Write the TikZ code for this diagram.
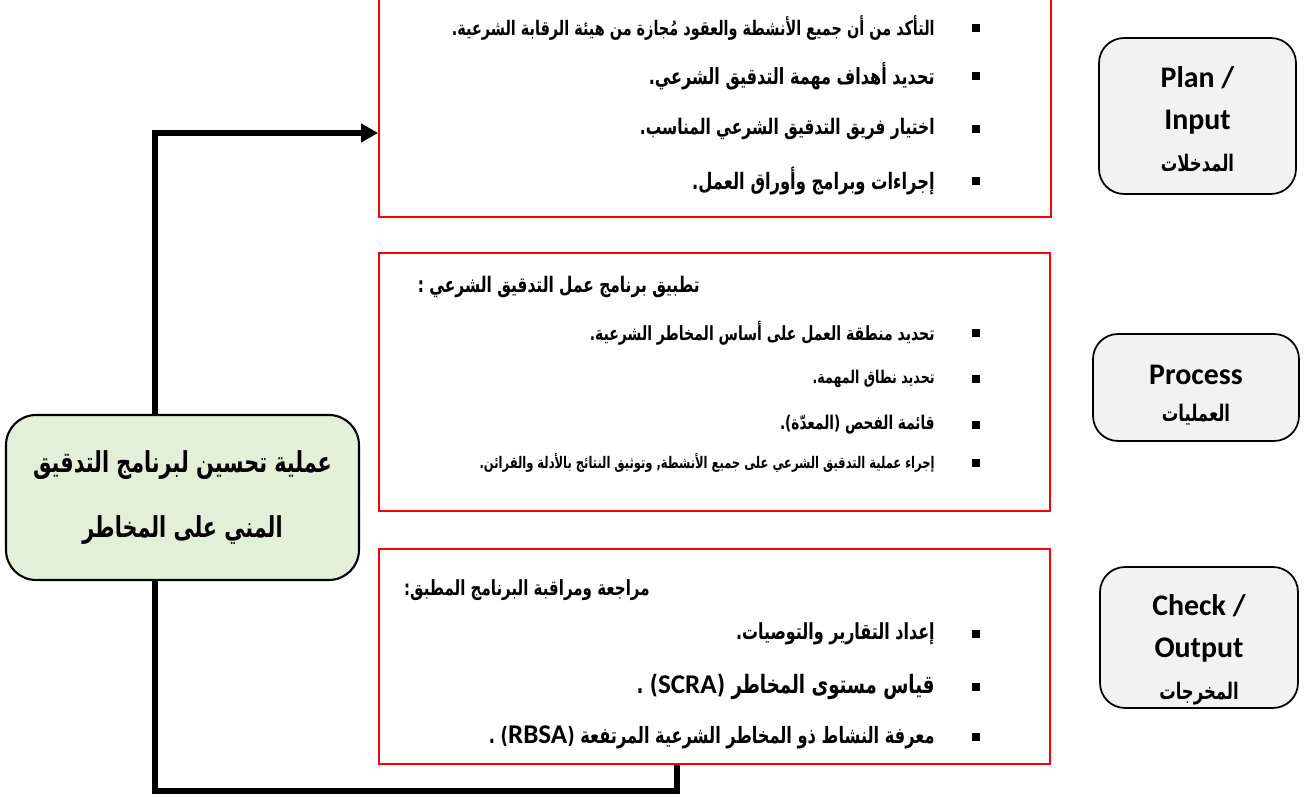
\documentclass[tikz,border=0pt]{standalone}
\usepackage{fontspec}
\setmainfont{DejaVu Sans}
\newfontfamily\arabicfont[Script=Arabic,FakeStretch=0.72]{DejaVu Sans}
\newfontfamily\latinfont{Carlito}
\TeXXeTstate=1
\usetikzlibrary{positioning,arrows.meta}

\definecolor{stagegray}{HTML}{F2F2F2}
\definecolor{cyclegreen}{HTML}{E2EFD9}

\newcommand{\artext}[1]{{\arabicfont\beginR #1\endR}}
\newcommand{\lat}[1]{\beginL{\latinfont\bfseries\fontsize{15.4}{16}\selectfont #1}\endL}

\tikzset{
  redbox/.style={draw=red, line width=1.1pt, inner sep=0pt},
  stage/.style={draw, line width=1pt, fill=stagegray, rounded corners=0.5cm,
    align=center, inner sep=0pt, font=\latinfont\bfseries\fontsize{17}{24}\selectfont},
  bul/.style={fill=black, minimum size=0.16cm, inner sep=0pt},
  item/.style={anchor=east, inner sep=0pt, font=\bfseries\fontsize{12.2}{14}\selectfont},
  flow/.style={line width=0.11cm},
}

\begin{document}
\begin{tikzpicture}[x=0.02cm, y=-0.02cm]
  \useasboundingbox (0,0) rectangle (1306,803);
  \clip (0,0) rectangle (1306,803);

  % boxes on the right
  \node[stage, minimum width=3.94cm, minimum height=3.12cm] (plan) at (1197.5,116)
    {\rule{0pt}{16pt}Plan /\\Input\\[0pt]{\fontsize{13}{14}\selectfont\artext{المدخلات}}};
  \node[stage, minimum width=4.12cm, minimum height=2.14cm] (proc) at (1196,387.5)
    {\rule{0pt}{19.5pt}Process\\[-3pt]{\fontsize{13}{14}\selectfont\artext{العمليات}}};
  \node[stage, minimum width=3.96cm, minimum height=2.82cm] (check) at (1199,637.5)
    {\rule{0pt}{26pt}Check /\\Output\\[0pt]{\fontsize{13}{14}\selectfont\artext{المخرجات}}};

  % red boxes
  \node[redbox, minimum width=13.44cm, minimum height=4.94cm] (inbox) at (715,93.5) {};
  \node[redbox, minimum width=13.42cm, minimum height=5.16cm] (procbox) at (714.5,382) {};
  \node[redbox, minimum width=13.42cm, minimum height=4.30cm] (outbox) at (714.5,656.5) {};

  % input items
  \node[bul] (b1) at (976,28) {};
  \node[bul] (b2) at (976,76) {};
  \node[bul] (b3) at (976,129) {};
  \node[bul] (b4) at (976,181) {};
  \node[item, font=\bfseries\fontsize{11.4}{13}\selectfont] (i1) at (935,28) {\artext{التأكد من أن جميع الأنشطة والعقود مُجازة من هيئة الرقابة الشرعية.}};
  \node[item, font=\bfseries\fontsize{12.7}{14}\selectfont] (i2) at (935,76) {\artext{تحديد أهداف مهمة التدقيق الشرعي.}};
  \node[item] (i3) at (935,129) {\artext{اختيار فريق التدقيق الشرعي المناسب.}};
  \node[item, font=\bfseries\fontsize{12.9}{14}\selectfont] (i4) at (935,181) {\artext{إجراءات وبرامج وأوراق العمل.}};

  % process items
  \node[item] (ph) at (700,287) {\artext{تطبيق برنامج عمل التدقيق الشرعي :}};
  \node[bul] (b5) at (976,333) {};
  \node[bul] (b6) at (976,379) {};
  \node[bul] (b7) at (976,425) {};
  \node[bul] (b8) at (976,463) {};
  \node[item, font=\bfseries\fontsize{11.1}{13}\selectfont] (p1) at (935,333) {\artext{تحديد منطقة العمل على أساس المخاطر الشرعية.}};
  \node[item, font=\bfseries\fontsize{10}{12}\selectfont] (p2) at (935,379) {\artext{تحديد نطاق المهمة.}};
  \node[item, font=\bfseries\fontsize{10.8}{12}\selectfont] (p3) at (935,425) {\artext{قائمة الفحص (المعدّة).}};
  \node[item, font=\bfseries\fontsize{9.1}{10}\selectfont] (p4) at (935,463) {\artext{إجراء عملية التدقيق الشرعي على جميع الأنشطة, وتوثيق النتائج بالأدلة والقرائن.}};

  % output items
  \node[item, font=\bfseries\fontsize{11.9}{13}\selectfont] (oh) at (650,590) {\artext{مراجعة ومراقبة البرنامج المطبق:}};
  \node[bul] (b9) at (976,634) {};
  \node[bul] (b10) at (976,687) {};
  \node[bul] (b11) at (976,737) {};
  \node[item, font=\bfseries\fontsize{12.6}{14}\selectfont] (o1) at (935,634) {\artext{إعداد التقارير والتوصيات.}};
  \node[item, font=\bfseries\fontsize{14.4}{16}\selectfont] (o2) at (935,687) {\artext{قياس مستوى المخاطر (\lat{SCRA}) .}};
  \node[item, font=\bfseries\fontsize{12.8}{14}\selectfont] (o3) at (935,737) {\artext{معرفة النشاط ذو المخاطر الشرعية المرتفعة (\lat{RBSA}) .}};

  % improvement box
  \node[draw, line width=1.2pt, fill=cyclegreen, rounded corners=0.6cm, align=center,
    minimum width=7.06cm, minimum height=3.3cm, inner sep=0pt,
    font=\bfseries\fontsize{16.4}{37}\selectfont] (cycle) at (182.5,497.5)
    {\artext{عملية تحسين لبرنامج التدقيق}\\\artext{المني على المخاطر}};

  \coordinate (up) at (155,133);
  \coordinate (low) at (677,791);
  %cycle>inbox
  \draw[flow,-{Triangle[length=0.34cm,width=0.36cm]}] (cycle.north -| up) |- (inbox.west |- up);
  %outbox>cycle
  \draw[flow] (outbox.south -| low) -- (low) -| (cycle.south -| up);
\end{tikzpicture}
\end{document}
